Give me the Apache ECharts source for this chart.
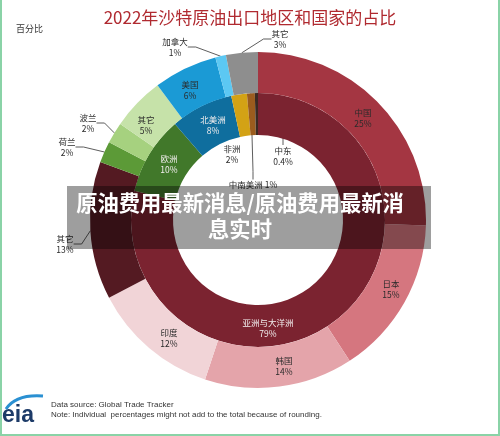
<!DOCTYPE html>
<html>
<head>
<meta charset="utf-8">
<script src="https://cdn.jsdelivr.net/npm/echarts@6/dist/echarts.min.js"></script>
<style>
  html, body { margin: 0; padding: 0; background: #fff; }
  #chart { width: 500px; height: 436px; }
</style>
</head>
<body>
<div id="chart"></div>
<script>
// inner ring: regions
const regionNames = ['亚洲与大洋洲', '欧洲', '北美洲', '非洲', '中南美洲', '中东']
const regionValues = [79, 10, 8, 2, 1, 0.4]
// outer ring: countries
const countryNames = ['中国', '日本', '韩国', '印度', '其它', '荷兰', '波兰', '其它', '美国', '加拿大', '其它']
const countryValues = [25, 15, 14, 12, 13, 2, 2, 5, 6, 1, 3]

const regionColors = ['#7b2330', '#41782a', '#0f6e9e', '#d3a215', '#9b5c1e', '#3b2a22']
const countryColors = ['#a43642', '#d5767f', '#e4a4aa', '#f1d4d7', '#541a22', '#5c9a37', '#a6d17f', '#c6e2a9', '#1b9ad5', '#5cc8f3', '#8e8e8e']

// label spots in pixels
const regionSpots = [[268, 328], [169, 164], [213, 125], [232, 154], [253, 185], [283, 156]]
const regionOutside = [false, false, false, false, true, true]
const countrySpots = [[363, 118], [391, 289], [284, 366], [169, 338], [65, 244], [67, 147], [88, 123], [146, 125], [190, 90], [175, 47], [280, 39]]
const countryOutside = [false, false, false, false, true, true, true, false, false, true, true]

const font = '"Noto Sans CJK SC", "Noto Sans", sans-serif'
const chart = echarts.init(document.getElementById('chart'), null, { renderer: 'canvas' })

function ringData (names, values, colors, outside, lightText) {
  return names.map((n, i) => ({
    name: n,
    value: values[i],
    itemStyle: { color: colors[i] },
    label: {
      position: outside[i] ? 'outside' : 'inside',
      color: lightText(i) ? '#f2eeee' : '#2b2b2b'
    },
    labelLine: { show: outside[i] }
  }))
}

function spotLayout (spots) {
  return function (params) {
    const s = spots[params.dataIndex]
    return { x: s[0], y: s[1], align: 'center', verticalAlign: 'middle' }
  }
}

const baseSeries = {
  type: 'pie',
  center: [258, 220],
  startAngle: 90,
  clockwise: true,
  avoidLabelOverlap: false,
  silent: true,
  animation: false,
  itemStyle: { borderWidth: 0 },
  label: {
    fontFamily: font,
    fontSize: 8.5,
    lineHeight: 11
  },
  labelLine: {
    length: 8,
    length2: 8,
    lineStyle: { color: '#333', width: 0.8 }
  }
}

const option = {
  backgroundColor: '#fff',
  title: {
    text: '2022年沙特原油出口地区和国家的占比',
    left: 'center',
    top: 4,
    textStyle: { color: '#b02a30', fontSize: 17, fontWeight: 'normal', fontFamily: font }
  },
  series: [
    Object.assign({}, baseSeries, {
      name: 'region',
      radius: [85, 127],
      data: ringData(regionNames, regionValues, regionColors, regionOutside, i => i < 3),
      label: Object.assign({}, baseSeries.label, {
        formatter: p => p.name + (p.dataIndex === 4 ? ' ' : '\n') + p.value + '%'
      }),
      labelLayout: spotLayout(regionSpots)
    }),
    Object.assign({}, baseSeries, {
      name: 'country',
      radius: [127, 168],
      data: ringData(countryNames, countryValues, countryColors, countryOutside, () => false),
      label: Object.assign({}, baseSeries.label, {
        formatter: p => p.name + '\n' + p.value + '%'
      }),
      labelLayout: spotLayout(countrySpots)
    })
  ],
  graphic: [
    {
      type: 'text', left: 16, top: 24,
      style: { text: '百分比', fill: '#333', font: '9px ' + font }
    },
    // overlay band
    {
      type: 'rect', z: 100,
      shape: { x: 67, y: 186, width: 364, height: 63 },
      style: { fill: 'rgba(0,0,0,0.38)' }
    },
    {
      type: 'text', z: 101, x: 240, y: 216,
      style: {
        text: '原油费用最新消息/原油费用最新消\n息实时',
        fill: '#fff',
        font: 'bold 21.3px ' + font,
        lineHeight: 26,
        align: 'center',
        verticalAlign: 'middle'
      }
    },
    // footer
    {
      type: 'text', x: 51, y: 400,
      style: {
        text: 'Data source: Global Trade Tracker\nNote: Individual  percentages might not add to the total because of rounding.',
        fill: '#333',
        font: '8px "Liberation Sans", Arial, sans-serif',
        lineHeight: 9.8
      }
    },
    {
      type: 'text', x: 2, y: 404,
      style: { text: 'eia', fill: '#1d3b68', font: 'bold 23px "Liberation Sans", Arial, sans-serif' }
    },
    {
      type: 'bezierCurve',
      shape: { x1: 6, y1: 409, cpx1: 16, cpy1: 394, x2: 43, y2: 396 },
      style: { stroke: '#2a90d2', lineWidth: 3, fill: null }
    },
    // frame
    { type: 'line', shape: { x1: 1, y1: 0, x2: 1, y2: 436 }, style: { stroke: '#8ad3a7', lineWidth: 2 } },
    { type: 'line', shape: { x1: 499, y1: 0, x2: 499, y2: 436 }, style: { stroke: '#8ad3a7', lineWidth: 2 } },
    { type: 'line', shape: { x1: 0, y1: 435, x2: 500, y2: 435 }, style: { stroke: '#8ad3a7', lineWidth: 2 } }
  ]
}

chart.setOption(option)
</script>
</body>
</html>
